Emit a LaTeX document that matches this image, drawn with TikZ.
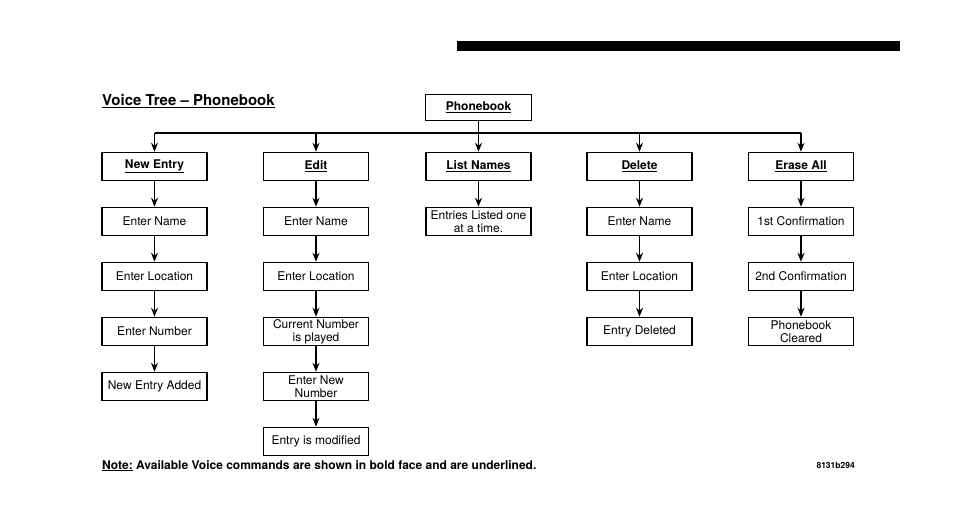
\documentclass[tikz,border=0pt]{standalone}
\usepackage{fontspec}
\setmainfont{TeX Gyre Heros}
\usetikzlibrary{positioning,arrows.meta}

\tikzset{
  box/.style={draw, line width=1.5pt, minimum width=105pt, minimum height=28pt,
    inner sep=1.5pt, align=center, font=\fontsize{12}{13.3}\selectfont},
  cmd/.style={box, font=\fontsize{12}{14}\selectfont\bfseries},
  flow/.style={-{Stealth[length=9pt,width=7pt]}, line width=1.5pt},
}

\begin{document}
\begin{tikzpicture}[x=1pt, y=-1pt, node distance=25.5pt]
    \useasboundingbox (0,0) rectangle (964,505);
    \fill (457,41) rectangle (900,51);

    \node[anchor=base west, inner sep=0pt, font=\fontsize{15}{18}\selectfont\bfseries] (title) at (102,106)
        {\underline{Voice Tree -- Phonebook}};

    % top of the tree
    \node[cmd, minimum width=106pt, minimum height=26pt] (pb) at (478.5,107.5) {\underline{Phonebook}};
    \node[cmd] (newe)  at (154.5,166.5) {\underline{New Entry}};
    \node[cmd] (edit)  at (316,166.5)   {\underline{Edit}};
    \node[cmd] (list)  at (478.5,166.5) {\underline{List Names}};
    \node[cmd] (del)   at (639.5,166.5) {\underline{Delete}};
    \node[cmd] (erase) at (801,166.5)   {\underline{Erase All}};
    \coordinate (bus) at (478.5,133);

    \draw[flow] (pb) -- (list);
    \draw[line width=1.5pt] (bus -| newe) -- (bus -| erase);
    \foreach \n in {newe,edit,del,erase}
        \draw[flow] (bus -| \n) -- (\n);

    % New Entry
    \node[box, below=of newe]  (newe1) {Enter Name};
    \node[box, below=of newe1] (newe2) {Enter Location};
    \node[box, below=of newe2] (newe3) {Enter Number};
    \node[box, below=of newe3] (newe4) {New Entry Added};

    % Edit
    \node[box, below=of edit]  (edit1) {Enter Name};
    \node[box, below=of edit1] (edit2) {Enter Location};
    \node[box, below=of edit2] (edit3) {Current Number\\is played};
    \node[box, below=of edit3] (edit4) {Enter New\\Number};
    \node[box, below=of edit4] (edit5) {Entry is modified};

    % List Names
    \node[box, below=of list] (list1) {Entries Listed one\\at a time.};

    % Delete
    \node[box, below=of del]  (del1) {Enter Name};
    \node[box, below=of del1] (del2) {Enter Location};
    \node[box, below=of del2] (del3) {Entry Deleted};

    % Erase All
    \node[box, below=of erase]  (erase1) {1st Confirmation};
    \node[box, below=of erase1] (erase2) {2nd Confirmation};
    \node[box, below=of erase2] (erase3) {Phonebook\\Cleared};

    \foreach \a/\b in {newe/newe1,newe1/newe2,newe2/newe3,newe3/newe4,
                       edit/edit1,edit1/edit2,edit2/edit3,edit3/edit4,edit4/edit5,
                       list/list1,del/del1,del1/del2,del2/del3,
                       erase/erase1,erase1/erase2,erase2/erase3}
        \draw[flow] (\a) -- (\b);

    \node[anchor=base west, inner sep=0pt, font=\fontsize{12}{14}\selectfont\bfseries] (note) at (102,469)
        {\underline{Note:} Available Voice commands are shown in bold face and are underlined.};
    \node[anchor=base east, inner sep=0pt, font=\fontsize{8.5}{10}\selectfont\bfseries] (code) at (855,468) {8131b294};
\end{tikzpicture}
\end{document}
